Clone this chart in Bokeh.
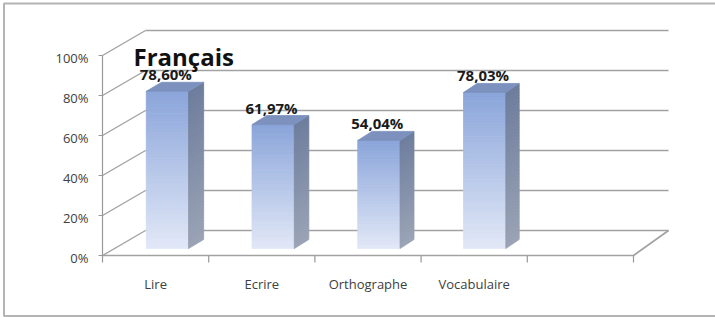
from bokeh.plotting import figure
from bokeh.models import Range1d, Label
from bokeh.embed import file_html
from bokeh.resources import INLINE
from bokeh.core.properties import value

# ---------------- data ----------------
categories = ["Lire", "Ecrire", "Orthographe", "Vocabulaire"]
scores = [78.60, 61.97, 54.04, 78.03]
score_labels = ["78,60%", "61,97%", "54,04%", "78,03%"]
y_ticks = [0, 20, 40, 60, 80, 100]
y_tick_labels = ["0%", "20%", "40%", "60%", "80%", "100%"]
n_slots = 5
title_text = "Français"

# ---------------- layout / projection ----------------
W, H = 715, 317
PX_U, PX_V = 106.2, 2.0           # pixels per category unit / per percent
OX, OY = 102, 255                 # canvas position of front-floor-left corner
DEPTH_U, DEPTH_V, SHRINK = 43 / 106.2, 12.5, 0.015
D_FRONT, D_BACK = 0.28, 0.64      # depth of the bars
BAR_L, BAR_R = 0.3, 0.7           # bar extent inside a slot

FONT = value("Open Sans")
GRID = "#A2A2A2"
AXIS = "#989898"


def proj(u, v, d):
    return u * (1 - SHRINK * d) + DEPTH_U * d, v + DEPTH_V * d


def px(x, y):
    """canvas pixel -> data (for frame decorations only)"""
    return (x - OX) / PX_U, (OY - y) / PX_V


def lerp(c1, c2, t):
    a = [int(c1[i:i + 2], 16) for i in (1, 3, 5)]
    b = [int(c2[i:i + 2], 16) for i in (1, 3, 5)]
    return "#%02x%02x%02x" % tuple(round(a[k] + (b[k] - a[k]) * t) for k in range(3))


p = figure(width=W, height=H, output_backend="svg", toolbar_location=None,
           x_range=Range1d(-OX / PX_U, (W - OX) / PX_U),
           y_range=Range1d(-(H - OY) / PX_V, OY / PX_V),
           x_axis_location=None, y_axis_location=None, min_border=0)
p.grid.visible = False
p.background_fill_color = "white"
p.border_fill_color = "white"
p.outline_line_color = None

# chart border (open on the right like the reference crop)
c1, c2, c3, c4 = px(720, 3), px(3.5, 3), px(3.5, 315.5), px(720, 315.5)
p.line([c1[0], c2[0], c3[0], c4[0]], [c1[1], c2[1], c3[1], c4[1]],
       line_color="#B4B4B4", line_width=2)

# back wall gridlines
xs, ys = [], []
for t in y_ticks:
    a = proj(0, t, 1)
    b = proj(n_slots, t, 1)
    xs.append([a[0], b[0]]); ys.append([a[1], b[1]])
p.multi_line(xs, ys, line_color=GRID, line_width=1.7)

# left wall slanted lines
xs, ys = [], []
for t in y_ticks:
    a = proj(0, t, 0)
    b = proj(0, t, 1)
    xs.append([a[0], b[0]]); ys.append([a[1], b[1]])
p.multi_line(xs, ys, line_color=GRID, line_width=1.4)

# floor: front edge, right edge
a, b, c = proj(0, 0, 0), proj(n_slots, 0, 0), proj(n_slots, 0, 1)
p.line([a[0], b[0], c[0]], [a[1], b[1], c[1]], line_color=GRID, line_width=1.7)

# front vertical axis + ticks
top = proj(0, y_ticks[-1], 0)
p.line([a[0], top[0]], [a[1], top[1]], line_color=AXIS, line_width=1.2)
tick_len = 4 / PX_U
p.multi_line([[0 - tick_len, 0] for t in y_ticks], [[t, t] for t in y_ticks],
             line_color=AXIS, line_width=1.2)
# category ticks
p.multi_line([[i, i] for i in range(n_slots + 1)],
             [[0, -3.5] for i in range(n_slots + 1)],
             line_color=AXIS, line_width=1.2)

# bars
N = 50
FRONT_TOP, FRONT_BOT = "#8AA5DA", "#E2E8F7"
SIDE_TOP, SIDE_BOT = "#6C7C9C", "#9AA3B5"
TOP_FACE = "#7C91BE"
fl, fr, fb, ft, fc = [], [], [], [], []
sx, sy, sc = [], [], []
tx, ty = [], []
for i, val in enumerate(scores):
    u0, u1 = i + BAR_L, i + BAR_R
    for k in range(N):
        v0 = val * k / N
        v1 = val * (k + 1) / N
        t = (k + 0.5) / N
        col = lerp(FRONT_BOT, FRONT_TOP, t)
        l0, b0 = proj(u0, v0, D_FRONT)
        r0, t0 = proj(u1, v1, D_FRONT)
        fl.append(l0); fr.append(r0); fb.append(b0); ft.append(t0); fc.append(col)
        pa = proj(u1, v0, D_FRONT); pb = proj(u1, v0, D_BACK)
        pc = proj(u1, v1, D_BACK); pd = proj(u1, v1, D_FRONT)
        sx.append([pa[0], pb[0], pc[0], pd[0]])
        sy.append([pa[1], pb[1], pc[1], pd[1]])
        sc.append(lerp(SIDE_BOT, SIDE_TOP, t))
    q = [proj(u0, val, D_FRONT), proj(u1, val, D_FRONT),
         proj(u1, val, D_BACK), proj(u0, val, D_BACK)]
    tx.append([pt[0] for pt in q]); ty.append([pt[1] for pt in q])

p.quad(left=fl, right=fr, bottom=fb, top=ft, fill_color=fc, line_color=fc, line_width=0.8)
p.patches(sx, sy, fill_color=sc, line_color=sc, line_width=0.8)
p.patches(tx, ty, fill_color=TOP_FACE, line_color=TOP_FACE, line_width=0.8)

# value labels
lx = [proj(i + 0.5, v, D_FRONT)[0] - 0.015 for i, v in enumerate(scores)]
ly = [proj(i + 0.5, v, D_FRONT)[1] + 8.5 for i, v in enumerate(scores)]
p.text(lx, ly, text=score_labels, text_font=FONT, text_font_style="bold",
       text_font_size="15px", text_color="#1A1A1A",
       text_align="center", text_baseline="middle")

# y tick labels
p.text([-14 / PX_U] * len(y_ticks), y_ticks, text=y_tick_labels, text_font=FONT,
       text_font_size="13px", text_color="#404040",
       text_align="right", text_baseline="middle", y_offset=2)

# category labels
p.text([i + 0.5 for i in range(len(categories))], [-14] * len(categories),
       text=categories, text_font=FONT, text_font_size="13px", text_color="#404040",
       text_align="center", text_baseline="middle")

# title
p.add_layout(Label(x=133, y=H - 56, x_units="screen", y_units="screen",
                   text=title_text, text_font="Open Sans", text_font_style="bold",
                   text_font_size="24px", text_color="#111111",
                   text_baseline="alphabetic"))

open("out.html", "w").write(file_html(p, INLINE))
